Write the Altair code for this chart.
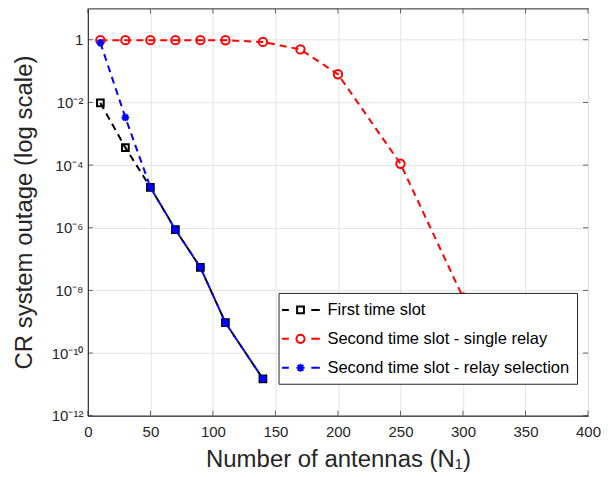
import altair as alt
import pandas as pd

# ---- data ----
series_names = ["First time slot", "Second time slot - single relay", "Second time slot - relay selection"]
series_colors = ["#000000", "#ff0000", "#0000ff"]

x_first = [10, 30, 50, 70, 90, 110, 140]
y_first = [9.6e-3, 3.6e-4, 1.95e-5, 8.7e-7, 5.4e-8, 9.3e-10, 1.5e-11]

x_single = [10, 30, 50, 70, 90, 110, 140, 170, 200, 250, 300]
y_single = [0.97, 0.97, 0.97, 0.97, 0.97, 0.96, 0.85, 0.49, 0.079, 1.1e-4, 6e-9]

x_select = [10, 30, 50, 70, 90, 110, 140]
y_select = [0.8, 3.3e-3, 1.95e-5, 8.7e-7, 5.4e-8, 9.3e-10, 1.5e-11]

x_ticks = [0, 50, 100, 150, 200, 250, 300, 350, 400]
y_ticks = [1e-12, 1e-10, 1e-8, 1e-6, 1e-4, 1e-2, 1]

rows = []
for name, xs, ys in zip(series_names, [x_first, x_single, x_select], [y_first, y_single, y_select]):
    for xv, yv in zip(xs, ys):
        rows.append({"series": name, "N": xv, "outage": yv})
df = pd.DataFrame(rows)

FONT = "Liberation Sans"
TXT = "#262626"

# legend symbols: dashed line + marker
legend_paths = [
    "M-2.05,0L-1.3,0M1.2,0L2.15,0M-0.38,-0.38L0.38,-0.38L0.38,0.38L-0.38,0.38Z",
    "M-2.05,0L-1.3,0M1.2,0L2.15,0M-0.45,0A0.45,0.45,0,1,0,0.45,0A0.45,0.45,0,1,0,-0.45,0Z",
    "M-2.05,0L-1.3,0M1.2,0L2.15,0M-0.45,0L0.45,0M0,-0.45L0,0.45M-0.32,-0.32L0.32,0.32M-0.32,0.32L0.32,-0.32",
]
marker_shapes = [
    "square",
    "circle",
    "M-1,0L1,0M0,-1L0,1M-0.7,-0.7L0.7,0.7M-0.7,0.7L0.7,-0.7",
]
marker_sizes = [45, 70, 60]

label_expr = (
    "datum.value >= 0.5 ? '1' : datum.value > 1e-3 ? '10⁻²' : datum.value > 1e-5 ? '10⁻⁴' : "
    "datum.value > 1e-7 ? '10⁻⁶' : datum.value > 1e-9 ? '10⁻⁸' : datum.value > 1e-11 ? '10⁻¹⁰' : '10⁻¹²'"
)

x_enc = alt.X("N:Q", scale=alt.Scale(domain=[0, 400], nice=False, zero=False, padding=0),
              axis=alt.Axis(values=x_ticks, title="Number of antennas (N₁)", grid=True,
                            tickSize=0, labelPadding=9, titlePadding=8, labelFlush=False))
y_enc = alt.Y("outage:Q", scale=alt.Scale(type="log", domain=[1e-12, 10], nice=False, padding=0),
              axis=alt.Axis(values=y_ticks, labelExpr=label_expr, title="CR system outage (log scale)",
                            grid=True, tickSize=0, labelPadding=5, titlePadding=15, labelFlush=False))

base = alt.Chart(df)
layers = []
for name, col, shp, sz in zip(series_names, series_colors, marker_shapes, marker_sizes):
    sub = base.transform_filter(alt.datum.series == name)
    layers.append(sub.mark_line(color=col, strokeDash=[7, 5], strokeWidth=2).encode(x=x_enc, y=y_enc))
    layers.append(sub.mark_point(shape=shp, color=col, size=sz, strokeWidth=2, filled=False, opacity=1)
                  .encode(x="N:Q", y="outage:Q"))

legend_layer = base.mark_point(opacity=0, filled=False).encode(
    x="N:Q", y="outage:Q",
    color=alt.Color("series:N", sort=series_names,
                    scale=alt.Scale(domain=series_names, range=series_colors),
                    legend=alt.Legend(title=None, orient="none", legendX=191, legendY=285,
                                      fillColor="white", strokeColor=TXT, padding=7,
                                      symbolSize=324, symbolStrokeWidth=2, symbolOpacity=1,
                                      symbolFillColor="transparent",
                                      symbolOffset=5, labelOffset=17, rowPadding=10,
                                      labelLimit=0,
                                      labelFontSize=16.5, labelFont=FONT, labelColor="#000000")),
    shape=alt.Shape("series:N", sort=series_names,
                    scale=alt.Scale(domain=series_names, range=legend_paths), legend=None),
)

# inward tick marks (MATLAB box style)
xt = pd.DataFrame({"N": x_ticks})
yt = pd.DataFrame({"outage": y_ticks})
tick_b = alt.Chart(xt).mark_tick(orient="vertical", size=5, thickness=1, color=TXT).encode(x="N:Q", y=alt.value(405.5))
tick_t = alt.Chart(xt).mark_tick(orient="vertical", size=5, thickness=1, color=TXT).encode(x="N:Q", y=alt.value(2.5))
tick_l = alt.Chart(yt).mark_tick(orient="horizontal", size=5, thickness=1, color=TXT).encode(y="outage:Q", x=alt.value(2.5))
tick_r = alt.Chart(yt).mark_tick(orient="horizontal", size=5, thickness=1, color=TXT).encode(y="outage:Q", x=alt.value(498.5))

chart = alt.layer(*layers, legend_layer, tick_b, tick_t, tick_l, tick_r).properties(
    width=501, height=408,
    autosize=alt.AutoSizeParams(type="none"),
    padding={"left": 80, "top": 0, "right": 15, "bottom": 60},
).configure_view(stroke=TXT, strokeWidth=1).configure_axis(
    labelFont=FONT, titleFont=FONT, labelFontSize=15, titleFontSize=24,
    titleFontWeight="normal", labelColor=TXT, titleColor=TXT,
    gridColor="#e3e3e3", gridWidth=1, domainColor=TXT, domainWidth=1,
).configure_legend(strokeWidth=1, cornerRadius=0)

chart.save("out.html", embed_options={"renderer": "svg", "actions": False})
